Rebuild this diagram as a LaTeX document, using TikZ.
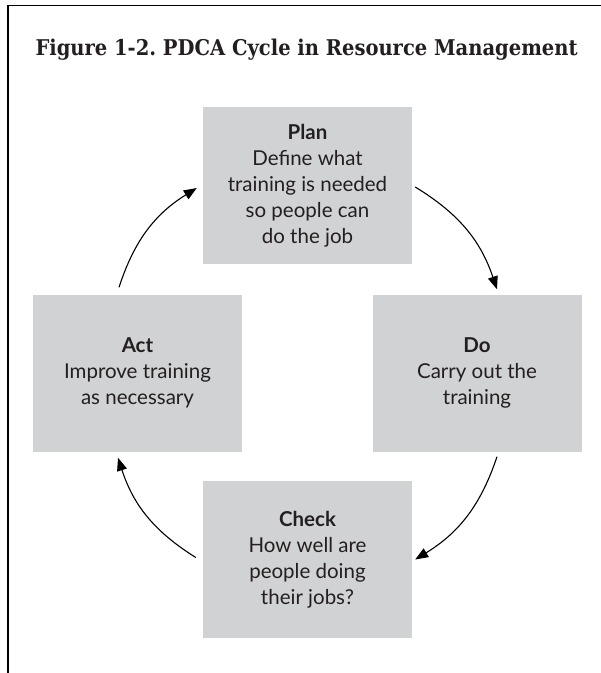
\documentclass[tikz,border=0pt]{standalone}
\usepackage{fontspec}
\setmainfont{Lato}
\newfontfamily\titlefont{DejaVu Serif Condensed}
\usetikzlibrary{arrows.meta}
\definecolor{boxgrey}{RGB}{209,210,212}
\definecolor{ink}{RGB}{35,31,32}
\begin{document}
\begin{tikzpicture}[x=1pt,y=-1pt,
	stagebox/.style={fill=boxgrey, minimum width=209pt, minimum height=157pt, inner sep=0pt,
		align=center, text=ink, font=\fontsize{20.5}{26}\selectfont},
	cyc/.style={-{Triangle[length=13pt,width=10pt]}, line width=1.1pt, bend left=20}]
	\useasboundingbox (0,0) rectangle (601,673);
	\draw[line width=1.4pt] (8,673) -- (8,5.5) -- (601,5.5);
	\node[anchor=base west, text=ink, font=\titlefont\bfseries\fontsize{21.7}{24}\selectfont] (title) at (32,55) {Figure 1-2.\ PDCA Cycle in Resource Management};
	
	\node[stagebox] (plan) at (307.5,185.5) {\textbf{Plan}\\Define what\\training is needed\\so people can\\do the job};
	\node[stagebox] (do) at (477,373) {\textbf{Do}\\Carry out the\\training};
	\node[stagebox] (check) at (307.5,559.5) {\textbf{Check}\\How well are\\people doing\\their jobs?};
	\node[stagebox] (act) at (137.5,373) {\textbf{Act}\\Improve training\\as necessary};
	
	\draw[cyc] ([xshift=3pt,yshift=-1.5pt]plan.east) to ([xshift=20pt,yshift=5pt]do.north);
	\draw[cyc] ([xshift=20pt,yshift=-5pt]do.south) to ([xshift=3pt]check.east);
	\draw[cyc] ([xshift=-7pt,yshift=2pt]check.west) to ([xshift=-19.5pt,yshift=-6pt]act.south);
	\draw[cyc] ([xshift=-18.5pt,yshift=7pt]act.north) to ([xshift=-6pt,yshift=-2.5pt]plan.west);
\end{tikzpicture}
\end{document}
